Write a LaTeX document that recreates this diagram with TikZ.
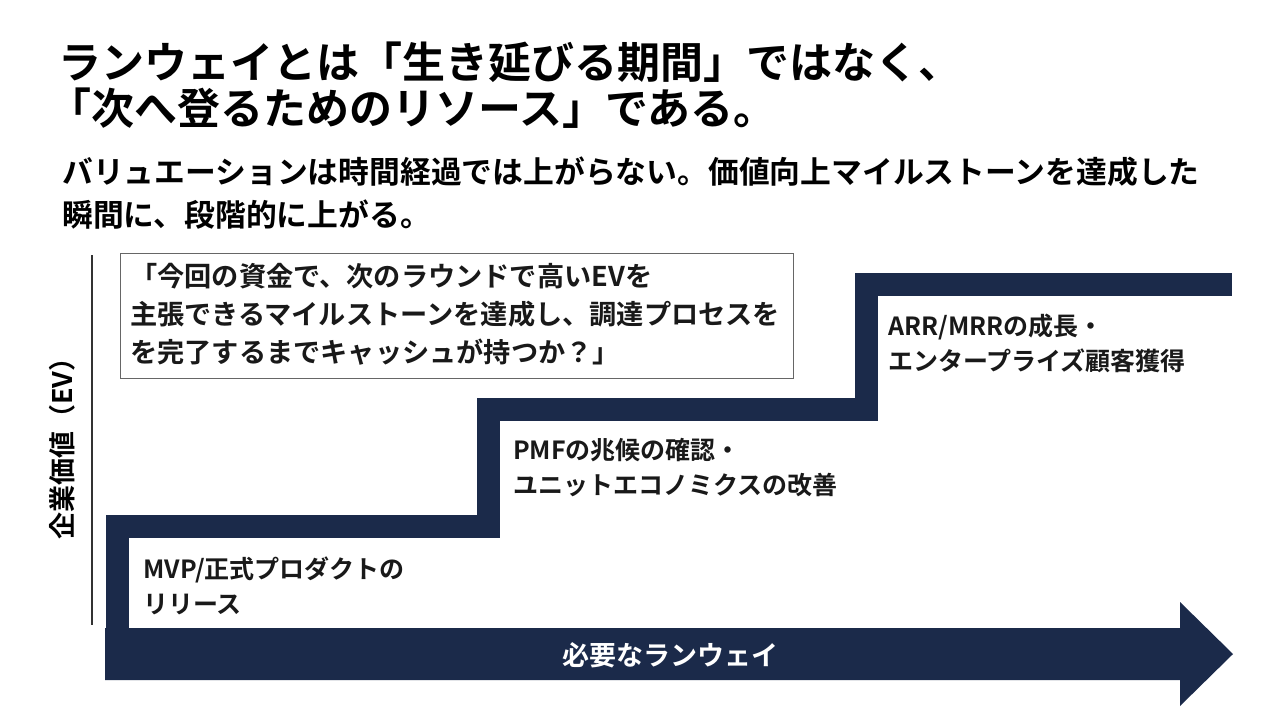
\documentclass[tikz,border=0pt]{standalone}
\usepackage{fontspec}
\setmainfont{Noto Sans CJK JP}[BoldFont={Noto Sans CJK JP Bold}]
\definecolor{navy}{HTML}{1B2A4A}
\begin{document}
\begin{tikzpicture}[x=1pt,y=-1pt,
  lbl/.style={anchor=west,inner sep=0pt,font=\fontsize{25}{35}\selectfont\bfseries,align=left,text=black!90}]
\useasboundingbox[fill=white] (0,0) rectangle (1280,716);
% title
\node[anchor=west,inner sep=0pt,font=\fontsize{43}{48}\selectfont\bfseries] (t1) at (58,62) {ランウェイとは「生き延びる期間」ではなく、};
\node[anchor=west,inner sep=0pt,font=\fontsize{43}{48}\selectfont\bfseries] (t2) at (48,108) {「次へ登るためのリソース」である。};
\node[anchor=west,inner sep=0pt,font=\fontsize{30.8}{34}\selectfont\bfseries] (s1) at (62,172) {バリュエーションは時間経過では上がらない。価値向上マイルストーンを達成した};
\node[anchor=west,inner sep=0pt,font=\fontsize{30.8}{34}\selectfont\bfseries] (s2) at (62,215) {瞬間に、段階的に上がる。};
% axis
\draw[line width=1.5pt,black!80] (92,255) -- (92,625);
\node[rotate=90,inner sep=0pt,font=\fontsize{27}{32}\selectfont\bfseries] (ylab) at (62,442) {企業価値（EV）};
% staircase
\draw[navy,line width=23,line join=miter] (117,660) -- (117,526.5) -- (488.5,526.5) -- (488.5,409) -- (866.5,409) -- (866.5,284.5) -- (1232,284.5);
% arrow
\fill[navy] (105,628) -- (1180,628) -- (1180,602) -- (1233,654) -- (1180,706) -- (1180,680) -- (105,680) -- cycle;
\node[text=white,font=\fontsize{27}{30}\selectfont\bfseries] (arr) at (670,655) {必要なランウェイ};
% quote box
\draw[black!60,line width=1pt] (120,253) rectangle (793,378);
\node[lbl,anchor=west,font=\fontsize{27.2}{38}\selectfont\bfseries] (q) at (130,314) {「今回の資金で、次のラウンドで高いEVを\\主張できるマイルストーンを達成し、調達プロセスを\\を完了するまでキャッシュが持つか？」};
% step labels
\node[lbl] (m1) at (143,586) {MVP/正式プロダクトの\\リリース};
\node[lbl] (m2) at (513,468) {PMFの兆候の確認・\\ユニットエコノミクスの改善};
\node[lbl] (m3) at (888,343) {ARR/MRRの成長・\\エンタープライズ顧客獲得};
\end{tikzpicture}
\end{document}
